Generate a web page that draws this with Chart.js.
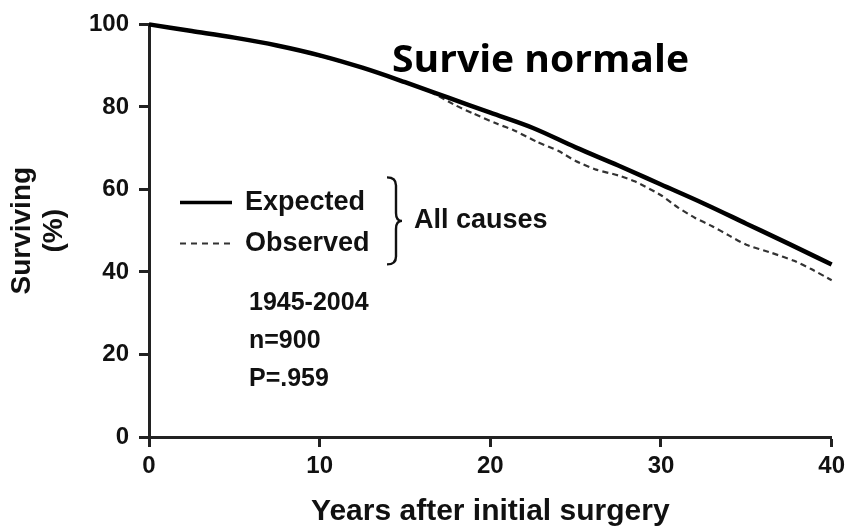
<!DOCTYPE html>
<html>
<head>
<meta charset="utf-8">
<script src="https://cdn.jsdelivr.net/npm/chart.js@4/dist/chart.umd.min.js"></script>
<style>
  html, body { margin: 0; padding: 0; background: #fff; }
  #wrap { width: 850px; height: 529px; position: relative; }
</style>
</head>
<body>
<div id="wrap"><canvas id="c" width="850" height="529"></canvas></div>
<script>
// ---- Data ----
const xTicks = [0, 10, 20, 30, 40];
const yTicks = [0, 20, 40, 60, 80, 100];

const expYears = [0, 2.5, 5, 7.5, 10, 12.5, 15, 17.5, 20, 22.5, 25, 27.5, 30, 32.5, 35, 37.5, 40];
const expected = [100, 98.4, 96.8, 94.9, 92.5, 89.5, 86.0, 82.3, 78.6, 74.9, 70.2, 65.8, 61.2, 56.6, 51.7, 46.8, 41.8];

const obsYears = [0, 2.5, 5, 7.5, 10, 12.5, 15, 16.5, 18, 19, 20.4, 21.4, 22.7, 24, 25, 26.2, 27.5, 28.5, 30, 31, 32, 33, 34, 35, 36.5, 37.8, 38.8, 40];
const observed = [100, 98.4, 96.8, 94.9, 92.3, 89.5, 86.0, 83.6, 80.3, 78.4, 75.9, 74.3, 71.6, 69.3, 66.9, 64.8, 63.4, 61.9, 58.6, 55.6, 53.1, 51.1, 48.8, 46.6, 44.6, 42.7, 40.7, 38.0];

const seriesNames = ['Expected', 'Observed'];
const groupLabel = 'All causes';
const infoLines = ['1945-2004', 'n=900', 'P=.959'];
const titleText = 'Survie normale';
const xTitle = 'Years after initial surgery';
const yTitle = ['Surviving', '(%)'];

const FONT = "'Liberation Sans', Arial, sans-serif";
const INK = '#111';

const annotations = {
  id: 'annotations',
  afterDraw(chart) {
    const ctx = chart.ctx;
    const a = chart.chartArea;
    ctx.save();
    // Title (fit to reference width)
    ctx.fillStyle = '#000';
    ctx.font = "bold 37px 'Open Sans', Lato, sans-serif";
    ctx.textAlign = 'left';
    ctx.textBaseline = 'alphabetic';
    const tw = ctx.measureText(titleText).width;
    const targetW = 297;
    ctx.save();
    ctx.translate(a.left + 243, a.top + 48);
    ctx.scale(targetW / tw, 1);
    ctx.fillText(titleText, 0, 0);
    ctx.restore();

    // Legend samples
    const lx0 = a.left + 31, lx1 = a.left + 83;
    const y1 = a.top + 178, y2 = a.top + 219;
    ctx.strokeStyle = '#000';
    ctx.lineWidth = 3.5;
    ctx.beginPath(); ctx.moveTo(lx0, y1); ctx.lineTo(lx1, y1); ctx.stroke();
    ctx.strokeStyle = '#333';
    ctx.lineWidth = 2;
    ctx.setLineDash([6, 5]);
    ctx.beginPath(); ctx.moveTo(lx0, y2); ctx.lineTo(lx1, y2); ctx.stroke();
    ctx.setLineDash([]);

    ctx.fillStyle = INK;
    ctx.font = 'bold 27px ' + FONT;
    ctx.textBaseline = 'middle';
    ctx.fillText(seriesNames[0], a.left + 96, y1);
    ctx.fillText(seriesNames[1], a.left + 96, y2);

    // Brace
    const bx = a.left + 238, top = a.top + 153, bot = a.top + 240, mid = (top + bot) / 2;
    const bw = 15;
    ctx.strokeStyle = INK;
    ctx.lineWidth = 2.4;
    ctx.beginPath();
    ctx.moveTo(bx, top);
    ctx.quadraticCurveTo(bx + bw * 0.6, top, bx + bw * 0.6, top + 8);
    ctx.lineTo(bx + bw * 0.6, mid - 8);
    ctx.quadraticCurveTo(bx + bw * 0.6, mid, bx + bw, mid);
    ctx.quadraticCurveTo(bx + bw * 0.6, mid, bx + bw * 0.6, mid + 8);
    ctx.lineTo(bx + bw * 0.6, bot - 8);
    ctx.quadraticCurveTo(bx + bw * 0.6, bot, bx, bot);
    ctx.stroke();

    ctx.fillText(groupLabel, a.left + 265, mid);

    // Info lines
    ctx.font = 'bold 25px ' + FONT;
    infoLines.forEach((t, i) => {
      ctx.fillText(t, a.left + 100, a.top + 279 + i * 38);
    });
    ctx.restore();
  }
};

new Chart(document.getElementById('c'), {
  type: 'line',
  data: {
    datasets: [
      {
        label: seriesNames[0],
        data: expYears.map((x, i) => ({ x, y: expected[i] })),
        borderColor: '#000',
        borderWidth: 4.5,
        pointRadius: 0,
        tension: 0.3,
        cubicInterpolationMode: 'monotone',
        fill: false,
        order: 1
      },
      {
        label: seriesNames[1],
        data: obsYears.map((x, i) => ({ x, y: observed[i] })),
        borderColor: '#333',
        borderWidth: 2.2,
        borderDash: [6, 4],
        pointRadius: 0,
        tension: 0.2,
        fill: false,
        order: 2
      }
    ]
  },
  options: {
    responsive: false,
    animation: false,
    devicePixelRatio: 1,
    clip: false,
    layout: { padding: { top: 22, right: 12, left: 0, bottom: 0 } },
    plugins: { legend: { display: false }, tooltip: { enabled: false }, title: { display: false } },
    scales: {
      x: {
        type: 'linear',
        min: 0, max: 40,
        afterBuildTicks: (s) => { s.ticks = xTicks.map(v => ({ value: v })); },
        border: { display: true, color: '#222', width: 3 },
        grid: { drawOnChartArea: false, drawTicks: true, tickLength: 10, tickWidth: 3, tickColor: '#222' },
        ticks: { color: INK, font: { family: FONT, size: 24, weight: 'bold' }, padding: 5, maxRotation: 0 },
        title: { display: true, text: xTitle, color: INK, font: { family: FONT, size: 30, weight: 'bold', lineHeight: 1.0 }, padding: { top: 6, bottom: 2 } },
        afterFit: (s) => { s.height = 92; }
      },
      y: {
        type: 'linear',
        min: 0, max: 100,
        afterBuildTicks: (s) => { s.ticks = yTicks.map(v => ({ value: v })); },
        border: { display: true, color: '#222', width: 3 },
        grid: { drawOnChartArea: false, drawTicks: true, tickLength: 10, tickWidth: 3, tickColor: '#222' },
        ticks: { color: INK, font: { family: FONT, size: 24, weight: 'bold' }, padding: 10 },
        title: { display: true, text: yTitle, color: INK, font: { family: FONT, size: 28, weight: 'bold', lineHeight: 1.12 }, padding: { top: 7, bottom: 0 } },
        afterFit: (s) => { s.width = 149; }
      }
    }
  },
  plugins: [annotations]
});
</script>
</body>
</html>
